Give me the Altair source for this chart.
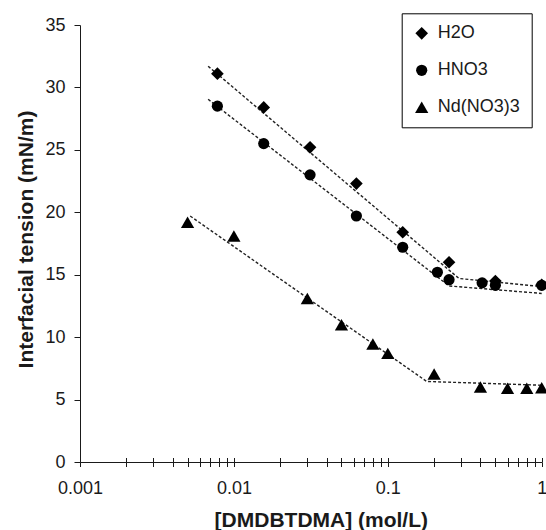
import altair as alt
import pandas as pd

FONT = "Liberation Sans"
INK = "#1a1a1a"

series_names = ["H2O", "HNO3", "Nd(NO3)3"]
series_shapes = ["diamond", "circle", "triangle-up"]
series_sizes = [160, 125, 175]

# measured points
h2o_conc = [0.0078125, 0.015625, 0.03125, 0.0625, 0.125, 0.25, 0.5, 1.0]
h2o_ift = [31.1, 28.4, 25.2, 22.3, 18.4, 16.0, 14.5, 14.2]

hno3_conc = [0.0078125, 0.015625, 0.03125, 0.0625, 0.125, 0.21, 0.25, 0.41, 0.5, 1.0]
hno3_ift = [28.5, 25.5, 23.0, 19.7, 17.2, 15.2, 14.6, 14.35, 14.15, 14.15]

nd_conc = [0.005, 0.01, 0.03, 0.05, 0.08, 0.1, 0.2, 0.4, 0.6, 0.8, 1.0]
nd_ift = [19.2, 18.1, 13.1, 11.0, 9.45, 8.7, 7.05, 6.0, 5.9, 5.9, 5.95]

# fitted (dashed) lines: start, break, end
h2o_fit_conc = [0.0068, 0.29, 1.0]
h2o_fit_ift = [31.7, 14.7, 14.05]
hno3_fit_conc = [0.0068, 0.25, 1.0]
hno3_fit_ift = [29.05, 14.1, 13.5]
nd_fit_conc = [0.0052, 0.179, 1.0]
nd_fit_ift = [19.7, 6.45, 6.15]

x_ticks = [0.001, 0.002, 0.003, 0.004, 0.005, 0.006, 0.007, 0.008, 0.009,
           0.01, 0.02, 0.03, 0.04, 0.05, 0.06, 0.07, 0.08, 0.09,
           0.1, 0.2, 0.3, 0.4, 0.5, 0.6, 0.7, 0.8, 0.9, 1.0]
x_labels = [0.001, 0.01, 0.1, 1.0]
y_ticks = [0, 5, 10, 15, 20, 25, 30, 35]

pt_rows = []
for name, cs, vs in zip(series_names, [h2o_conc, hno3_conc, nd_conc], [h2o_ift, hno3_ift, nd_ift]):
    for c, v in zip(cs, vs):
        pt_rows.append({"series": name, "conc": c, "ift": v})
points = pd.DataFrame(pt_rows)

fit_rows = []
for name, cs, vs in zip(series_names, [h2o_fit_conc, hno3_fit_conc, nd_fit_conc],
                        [h2o_fit_ift, hno3_fit_ift, nd_fit_ift]):
    for i, (c, v) in enumerate(zip(cs, vs)):
        fit_rows.append({"series": name, "conc": c, "ift": v, "idx": i})
fits = pd.DataFrame(fit_rows)

x_scale = alt.Scale(type="log", domain=[0.001, 1])
y_scale = alt.Scale(domain=[0, 35], nice=False, zero=True)

label_list = "[" + ", ".join(str(v) for v in x_labels) + "]"

bottom_axis = alt.Axis(
    orient="bottom", values=x_ticks, format="~g",
    labelExpr=f"indexof({label_list}, datum.value) >= 0 ? datum.label : ''",
    labelOverlap=False, labelFlush=False, grid=False,
    tickSize=4.5, labelPadding=13, tickColor=INK, domainColor=INK,
    labelFont=FONT, labelFontSize=18, labelColor=INK,
    title="[DMDBTDMA] (mol/L)", titleFont=FONT, titleFontSize=21,
    titleFontWeight="bold", titleColor=INK, titleX=240.8, titleY=64,
    titleBaseline="alphabetic", titleAlign="center", titleAnchor="middle",
)

top_axis = alt.Axis(
    orient="top", offset=-437, values=x_ticks, labels=False, domain=False,
    grid=False, tickSize=4.5, tickColor=INK, title=None,
)

y_axis = alt.Axis(
    orient="left", values=y_ticks, grid=False, tickSize=6, labelPadding=9,
    tickColor=INK, domainColor=INK,
    labelFont=FONT, labelFontSize=18, labelColor=INK,
    title="Interfacial tension (mN/m)", titleFont=FONT, titleFontSize=21,
    titleFontWeight="bold", titleColor=INK, titleX=-47.5, titleY=214,
    titleBaseline="alphabetic", titleAlign="center", titleAnchor="middle",
)

series_legend = alt.Legend(
    title=None, orient="none", legendX=321.7, legendY=-11.7,
    padding=11, rowPadding=19, labelFont=FONT, labelFontSize=18,
    labelColor=INK, symbolFillColor="black",
    symbolStrokeColor="black", symbolStrokeWidth=0,
    strokeColor="black", fillColor="white",
    labelOffset=7, symbolOffset=0,
)

lines = alt.Chart(fits).mark_line(
    color="#222222", strokeWidth=1.4, strokeDash=[3, 2], clip=False
).encode(
    x=alt.X("conc:Q", scale=x_scale, axis=top_axis),
    y=alt.Y("ift:Q", scale=y_scale, axis=y_axis),
    detail=alt.Detail("series:N"),
    order=alt.Order("idx:Q"),
)

pts = alt.Chart(points).mark_point(
    filled=True, color="black", opacity=1, clip=False
).encode(
    x=alt.X("conc:Q", scale=x_scale, axis=bottom_axis),
    y=alt.Y("ift:Q", scale=y_scale, axis=y_axis),
    shape=alt.Shape(
        "series:N",
        scale=alt.Scale(domain=series_names, range=series_shapes),
        legend=series_legend,
    ),
    size=alt.Size(
        "series:N",
        scale=alt.Scale(type="ordinal", domain=series_names, range=series_sizes),
        legend=series_legend,
    ),
)

chart = (
    alt.layer(lines, pts)
    .resolve_axis(x="independent")
    .properties(
        width=461.7, height=437,
        padding={"left": 80, "top": 25, "right": 4.3, "bottom": 68},
        autosize=alt.AutoSizeParams(type="none"),
        background="white",
    )
    .configure_view(stroke=None)
)

chart.save("out.html", embed_options={"renderer": "svg", "actions": False})
